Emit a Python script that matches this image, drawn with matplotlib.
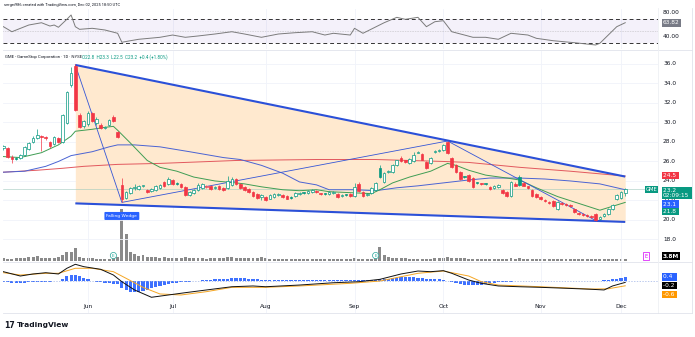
import matplotlib
matplotlib.use('Agg')
import matplotlib.pyplot as plt
from matplotlib.lines import Line2D
from matplotlib.transforms import blended_transform_factory as blend

W, H = 695, 337

# ---- data (x = trading-day index, 0 = May 2 2025) ----
opens = [27.4, 27.4, 26.5, 26.4, 26.4, 26.7, 27.3, 28.0, 28.4, 28.6,
         28.5, 28.0, 27.8, 28.4, 28.0, 29.9, 33.8, 35.8, 30.8, 29.6,
         29.8, 31.0, 29.9, 29.7, 29.4, 29.7, 30.6, 29.0, 23.6, 22.3,
         22.8, 23.3, 23.2, 23.5, 23.1, 23.0, 23.1, 23.3, 23.9, 23.7,
         24.1, 23.8, 23.7, 23.4, 22.6, 22.8, 23.1, 23.3, 23.4, 23.5,
         23.3, 23.5, 23.3, 23.3, 23.6, 24.2, 23.7, 23.4, 23.2, 22.9,
         22.7, 22.4, 22.4, 22.2, 22.4, 22.6, 22.6, 22.5, 22.4, 22.5,
         22.7, 22.8, 22.8, 22.9, 23.0, 22.7, 22.7, 22.7, 22.8, 22.7,
         22.5, 22.6, 22.7, 22.5, 23.7, 22.9, 22.6, 22.8, 23.1, 25.3,
         23.9, 24.9, 24.9, 25.6, 26.4, 26.1, 25.8, 26.0, 26.9, 26.8,
         25.9, 25.8, 27.0, 27.1, 27.2, 28.0, 26.4, 25.6, 24.9, 24.4,
         24.6, 24.3, 23.8, 23.7, 23.7, 23.4, 23.3, 23.4, 23.1, 22.9,
         22.5, 23.7, 24.4, 23.8, 23.5, 23.1, 22.7, 22.4, 22.0, 21.8,
         21.9, 21.1, 21.7, 21.6, 21.5, 21.1, 20.7, 20.6, 20.5, 20.4,
         20.6, 20.1, 20.4, 20.6, 21.1, 22.1, 22.3, 22.8]
closes = [27.6, 26.5, 26.3, 26.3, 26.7, 27.5, 27.9, 28.4, 28.7, 28.5,
          28.4, 27.6, 28.5, 28.0, 30.8, 33.1, 35.1, 31.3, 29.5, 30.2,
          31.0, 30.1, 30.4, 29.4, 29.5, 30.3, 30.1, 28.5, 22.1, 22.9,
          23.3, 23.4, 23.5, 23.6, 22.9, 23.2, 23.5, 23.6, 23.5, 24.2,
          23.7, 23.7, 23.4, 22.6, 22.9, 23.1, 23.6, 23.7, 23.5, 23.2,
          23.4, 23.2, 23.1, 24.0, 24.2, 23.7, 23.3, 23.1, 22.9, 22.5,
          22.3, 22.6, 22.0, 22.6, 22.7, 22.7, 22.4, 22.2, 22.3, 22.8,
          22.8, 22.8, 23.0, 23.1, 22.9, 22.7, 22.7, 22.9, 22.9, 22.4,
          22.6, 22.6, 22.5, 23.4, 23.0, 22.5, 22.7, 23.3, 23.8, 24.4,
          24.8, 25.0, 25.6, 26.1, 26.0, 25.9, 26.3, 26.7, 27.0, 26.2,
          25.3, 26.4, 27.1, 27.2, 27.7, 26.9, 25.4, 24.9, 24.2, 24.4,
          24.0, 23.4, 23.8, 23.7, 23.7, 23.2, 23.5, 23.6, 22.8, 22.5,
          23.9, 23.5, 23.6, 23.5, 23.3, 22.5, 22.4, 22.1, 21.9, 21.7,
          21.4, 21.8, 21.6, 21.5, 21.4, 20.8, 20.6, 20.5, 20.4, 20.3,
          20.0, 20.3, 20.6, 21.1, 21.5, 22.6, 22.9, 23.2]
highs = [27.7, 27.5, 26.7, 26.5, 26.8, 27.6, 28.0, 28.6, 29.3, 28.7,
         28.6, 28.1, 28.6, 28.5, 30.9, 33.2, 35.7, 36.0, 31.0, 30.3,
         31.2, 31.1, 30.6, 29.9, 29.6, 30.4, 30.8, 29.1, 24.3, 23.0,
         23.4, 23.7, 23.6, 23.6, 23.2, 23.3, 23.6, 23.7, 24.0, 24.4,
         24.2, 23.9, 23.8, 23.5, 23.0, 23.2, 23.8, 23.8, 23.6, 23.6,
         23.5, 23.6, 23.4, 24.5, 24.4, 24.3, 23.8, 23.5, 23.3, 23.0,
         22.8, 22.7, 22.5, 22.7, 22.8, 22.8, 22.7, 22.6, 22.5, 22.9,
         22.9, 22.9, 23.1, 23.2, 23.1, 22.8, 22.8, 23.0, 23.0, 22.8,
         22.7, 22.7, 22.8, 23.8, 23.9, 23.0, 22.8, 23.4, 23.9, 25.6,
         24.9, 25.1, 25.7, 26.2, 26.6, 26.2, 26.4, 27.0, 27.1, 26.9,
         26.0, 26.5, 27.2, 27.3, 27.8, 28.1, 26.5, 25.7, 25.0, 24.5,
         24.7, 24.4, 23.9, 23.8, 23.8, 23.5, 23.6, 23.7, 23.2, 23.0,
         24.0, 23.9, 24.6, 23.9, 23.5, 23.2, 22.8, 22.5, 22.1, 21.9,
         22.0, 21.9, 21.8, 21.7, 21.6, 21.2, 20.8, 20.7, 20.6, 20.5,
         20.7, 20.4, 20.7, 21.2, 21.6, 22.7, 23.0, 23.3]
lows = [27.2, 26.4, 25.8, 26.2, 26.3, 26.6, 27.2, 27.9, 28.3, 27.1,
        28.2, 27.4, 27.7, 27.9, 27.9, 29.8, 33.6, 31.2, 29.4, 29.4,
        29.6, 30.0, 29.7, 29.3, 29.3, 29.6, 30.0, 28.4, 21.8, 22.2,
        22.7, 23.1, 23.1, 23.4, 22.8, 22.9, 23.0, 23.2, 23.4, 23.6,
        23.6, 23.6, 23.3, 22.5, 22.5, 22.7, 23.0, 23.2, 23.3, 23.1,
        23.2, 23.1, 23.0, 23.2, 23.5, 23.6, 23.2, 23.0, 22.8, 22.4,
        22.2, 22.0, 21.9, 22.1, 22.3, 22.5, 22.3, 22.1, 22.2, 22.4,
        22.6, 22.7, 22.7, 22.8, 22.8, 22.6, 22.6, 22.6, 22.7, 22.3,
        22.4, 22.5, 22.4, 22.4, 22.9, 22.4, 22.5, 22.7, 23.0, 24.3,
        23.8, 24.8, 24.8, 25.5, 25.9, 25.8, 25.7, 25.9, 26.9, 26.1,
        25.2, 25.7, 26.9, 27.0, 27.1, 26.8, 25.3, 24.8, 24.1, 24.3,
        23.9, 23.3, 23.7, 23.6, 23.6, 23.1, 23.2, 23.3, 22.7, 22.4,
        22.4, 23.5, 23.5, 23.5, 23.2, 22.4, 22.3, 22.0, 21.8, 21.6,
        21.3, 21.0, 21.5, 21.4, 21.3, 20.7, 20.5, 20.4, 20.3, 20.2,
        19.9, 20.0, 20.3, 20.5, 21.0, 22.0, 22.2, 22.5]
volumes = [6, 5, 5, 6, 6, 7, 8, 9, 10, 7,
           7, 6, 7, 8, 13, 19, 19, 28, 9, 6,
           6, 6, 5, 5, 5, 5, 6, 8, 110, 57,
           19, 15, 11, 13, 9, 8, 8, 7, 8, 7,
           7, 6, 6, 8, 7, 6, 6, 6, 5, 6,
           6, 6, 6, 9, 8, 7, 6, 6, 6, 6,
           6, 8, 6, 5, 5, 5, 5, 5, 5, 5,
           5, 5, 5, 5, 5, 5, 5, 5, 5, 5,
           5, 5, 5, 6, 5, 5, 5, 5, 7, 30,
           12, 8, 6, 6, 6, 6, 5, 5, 5, 5,
           5, 5, 6, 6, 6, 8, 7, 6, 6, 6,
           5, 5, 5, 5, 5, 5, 5, 5, 5, 5,
           6, 5, 6, 5, 5, 5, 5, 5, 5, 5,
           5, 5, 5, 5, 5, 5, 5, 5, 5, 5,
           5, 5, 5, 5, 5, 5, 5, 3.8]

green_x = [0, 4, 9, 13, 16, 17, 21, 24, 26, 27, 30, 34, 37, 41, 45, 50, 55, 57, 61, 66,
           70, 74, 77, 82, 87, 89, 92, 96, 101, 105, 107, 110, 114, 119, 122, 126, 131, 136, 141, 144, 147]
green_y = [26.5, 26.4, 26.9, 27.7, 28.6, 29.1, 29.3, 29.5, 29.6, 29.2, 27.9, 26.1, 25.4, 25.0, 24.4, 24.0, 23.8, 23.7, 23.4, 23.1,
           23.0, 23.1, 22.9, 22.8, 22.7, 23.1, 23.8, 24.4, 25.0, 25.8, 25.6, 25.1, 24.6, 24.3, 24.1, 23.3, 22.4, 21.7, 21.0, 21.4, 21.8]
blue_x = [0, 5, 10, 13, 16, 21, 25, 27, 31, 37, 44, 52, 56, 61, 66, 70, 74, 77, 83, 88,
          93, 98, 104, 110, 115, 122, 128, 134, 141, 147]
blue_y = [24.9, 25.0, 25.5, 26.0, 26.6, 27.0, 27.5, 27.7, 27.7, 27.5, 27.0, 26.4, 26.2, 25.6, 24.8, 23.9, 23.6, 23.1, 23.1, 23.0,
          23.3, 23.5, 23.8, 24.1, 24.3, 24.3, 24.2, 24.0, 23.7, 23.1]
red_x = [0, 8, 14, 19, 27, 37, 55, 74, 88, 104, 110, 122, 134, 147]
red_y = [24.9, 25.1, 25.3, 25.5, 25.7, 25.8, 26.1, 26.2, 26.2, 26.0, 25.9, 25.4, 25.0, 24.5]

wedge_x = [17, 147]
wedge_upper = [35.9, 24.45]
wedge_lower = [21.7, 19.8]
pattern_x = [17, 28, 105, 140]
pattern_y = [35.9, 21.8, 28.1, 19.95]

rsi_x = [0, 2, 6, 9, 11, 12, 13, 15, 16, 17, 18, 21, 24, 27, 28, 30, 32, 37, 40, 43,
         46, 50, 54, 57, 61, 65, 69, 73, 76, 78, 82, 83, 85, 90, 93, 95, 98, 100, 102, 104,
         106, 109, 111, 114, 117, 120, 124, 126, 130, 135, 140, 141, 145, 147]
rsi_y = [57.2, 48.8, 60.0, 63.8, 58.3, 60.0, 56.2, 69.5, 76.7, 57.2, 52.8, 54.5, 51.7, 46.2, 31.2, 33.8, 36.2, 39.5, 43.3, 39.5,
         41.7, 45.0, 48.8, 45.0, 39.5, 45.0, 47.2, 48.8, 43.3, 46.2, 43.3, 54.5, 46.2, 63.8, 72.8, 69.5, 72.8, 57.2, 65.5, 67.2,
         48.8, 43.3, 39.5, 39.5, 36.2, 46.2, 43.3, 37.8, 33.8, 30.5, 26.7, 29.5, 57.2, 63.82]

macd_x = [0, 4, 7, 10, 13, 15, 17, 19, 23, 26, 28, 31, 35, 39, 43, 48, 54, 59, 62, 70,
          78, 84, 89, 94, 98, 101, 104, 106, 110, 113, 117, 122, 127, 133, 139, 142, 144, 147]
macd_y = [1.06, 0.55, 0.79, 0.94, 0.79, 1.46, 1.93, 1.65, 1.34, 0.67, -0.12, -1.09, -1.95, -1.68, -1.41, -1.09, -0.71, -0.62, -0.71, -0.51,
          -0.24, -0.12, 0.16, 0.79, 1.14, 1.06, 1.18, 0.87, 0.08, -0.31, -0.62, -0.71, -0.78, -0.89, -1.01, -1.09, -0.62, -0.2]
signal_x = [0, 4, 10, 13, 17, 21, 26, 29, 33, 37, 42, 48, 54, 62, 70, 82, 89, 94, 98, 104,
            110, 113, 117, 127, 139, 143, 147]
signal_y = [0.94, 0.67, 0.87, 0.87, 1.46, 1.46, 1.06, 0.28, -0.78, -1.56, -1.68, -1.29, -0.78, -0.78, -0.62, -0.31, -0.04, 0.47, 0.87, 1.14,
            0.55, -0.12, -0.51, -0.71, -0.98, -0.95, -0.6]
hist = [-0.15, -0.2, -0.25, -0.3, -0.3, -0.25, -0.2, -0.15, -0.1, -0.1, -0.1, -0.1, -0.05, -0.05,
        0.2, 0.5, 0.65, 0.7, 0.5, 0.3,
        0.15, 0.0, -0.1, -0.2, -0.25, -0.3, -0.35, -0.4,
        -0.8, -1.1, -1.3, -1.35, -1.3, -1.2, -1.05, -0.9, -0.75, -0.6, -0.45, -0.35,
        -0.3, -0.25, -0.2, -0.15, -0.1, -0.05, 0.0, 0.05,
        0.1, 0.12, 0.15, 0.18, 0.2, 0.25, 0.28, 0.3, 0.3, 0.28, 0.25, 0.2, 0.15,
        0.1, 0.08, 0.06, 0.05, 0.05, 0.04, 0.03, 0.03, 0.04, 0.05, 0.06, 0.06, 0.07, 0.07,
        0.06, 0.05, 0.05, 0.06, 0.05, 0.04, 0.04, 0.03, 0.03, 0.04, 0.05, 0.04, 0.03, 0.05,
        0.15, 0.2, 0.25, 0.3, 0.35, 0.4, 0.42, 0.4, 0.38, 0.35, 0.3, 0.25, 0.2, 0.18, 0.15, 0.1,
        0.0, -0.15, -0.3, -0.4, -0.5, -0.55, -0.55, -0.5, -0.45, -0.4, -0.3, -0.25, -0.2, -0.15,
        -0.12, -0.1, -0.08, -0.06, -0.05, -0.05, -0.06, -0.07, -0.07, -0.08, -0.08, -0.08,
        -0.08, -0.08, -0.07, -0.07, -0.07, -0.06, -0.06, -0.05, -0.05, -0.05,
        0.0, 0.05, 0.1, 0.18, 0.25, 0.32, 0.4]

months = ['Jun', 'Jul', 'Aug', 'Sep', 'Oct', 'Nov', 'Dec']
month_idx = [20, 40, 62, 83, 104, 127, 146]
price_ticks = [18, 20, 22, 24, 26, 28, 30, 32, 34, 36]
earnings_idx = [26, 88]

GREEN = '#089981'
RED = '#f23645'
BLUE = '#2962ff'
TXT = '#131722'
GRID = '#f0f3fa'

fig = plt.figure(figsize=(W / 100, H / 100), dpi=100)
fig.patch.set_facecolor('white')


def box(x0, y0, x1, y1):
    return [x0 / W, 1 - y1 / H, (x1 - x0) / W, (y1 - y0) / H]


def ptxt(x, y, s, **kw):
    kw.setdefault('fontsize', 4.2)
    kw.setdefault('va', 'center')
    return fig.text(x / W, 1 - y / H, s, **kw)


def tag(x, y, s, fc, **kw):
    kw.setdefault('color', 'white')
    return ptxt(x, y, s, bbox=dict(boxstyle='square,pad=0.18', fc=fc, ec='none'), **kw)


XL = (-0.1, 154.75)
ax_rsi = fig.add_axes(box(3, 9, 658, 49))
ax = fig.add_axes(box(3, 51, 658, 261))
ax_macd = fig.add_axes(box(3, 262, 658, 313))

for a in (ax_rsi, ax, ax_macd):
    a.set_xlim(*XL)
    for s in a.spines.values():
        s.set_visible(False)
    a.set_xticks([])
    a.set_yticks([])
    for m in month_idx:
        a.axvline(m, color=GRID, lw=0.6, zorder=0)

# ---- RSI pane ----
ax_rsi.set_ylim(20, 86.7)
ax_rsi.axhspan(30, 70, color='#7e57c2', alpha=0.08, lw=0)
ax_rsi.axhline(70, color='#333333', lw=0.7, ls=(0, (4, 3)))
ax_rsi.axhline(30, color='#333333', lw=0.7, ls=(0, (4, 3)))
ax_rsi.axhline(50, color='#9a9a9a', lw=0.4, ls=(0, (1, 2)))
ax_rsi.plot(rsi_x, rsi_y, color='#7b7b7b', lw=0.7)

# ---- price pane ----
ax.set_ylim(15.79, 37.33)
for p in price_ticks:
    ax.axhline(p, color=GRID, lw=0.6, zorder=0)
ax.patch.set_visible(False)
ax_vol = ax.twinx()
ax_vol.set_zorder(ax.get_zorder() - 1)
ax_vol.set_ylim(0, 440)
ax_vol.set_xlim(*XL)
ax_vol.set_yticks([])
for s in ax_vol.spines.values():
    s.set_visible(False)
ax_vol.bar(range(len(volumes)), volumes, width=0.7, color='#8a8a8a', lw=0)

ax.fill_between(wedge_x, wedge_lower, wedge_upper, color='#ffe9cf', lw=0, zorder=0.5)
ax.plot(wedge_x, wedge_upper, color='#2b50d8', lw=1.5, zorder=3, solid_capstyle='butt')
ax.plot(wedge_x, wedge_lower, color='#2b50d8', lw=1.5, zorder=3, solid_capstyle='butt')
ax.plot(pattern_x, pattern_y, color='#3556d6', lw=0.6, zorder=3)

ax.plot(red_x, red_y, color='#e2585e', lw=0.7, zorder=2)
ax.plot(blue_x, blue_y, color='#4a63d3', lw=0.7, zorder=2)
ax.plot(green_x, green_y, color='#3f9d54', lw=0.7, zorder=2)
ax.axhline(closes[-1], color='#9fc9bd', lw=0.4, zorder=1)

for i in range(len(closes)):
    o, h, l, c = opens[i], highs[i], lows[i], closes[i]
    prev = closes[i - 1] if i else o
    col = GREEN if c >= prev else RED
    ax.vlines(i, l, h, color=col, lw=0.5, zorder=4)
    hollow = c > o
    ax.bar(i, max(abs(c - o), 0.06), bottom=min(o, c), width=0.62,
           facecolor='white' if hollow else col, edgecolor=col, lw=0.5, zorder=5)

ax.text(28, 20.41, 'Falling Wedge', ha='center', va='center', fontsize=3.2, color='white', zorder=8,
        bbox=dict(boxstyle='round,pad=0.45,rounding_size=0.2', fc=BLUE, ec='none'))
for e in earnings_idx:
    ax.text(e, 16.35, 'E', ha='center', va='center', fontsize=3.2, color='#26a69a', zorder=8,
            bbox=dict(boxstyle='circle,pad=0.25', fc='white', ec='#26a69a', lw=0.5))

# ---- MACD pane ----
ax_macd.set_ylim(-3.8, 2.2)
ax_macd.axhline(0, color='#9fb3e6', lw=0.5, ls=(0, (2, 2)))
ax_macd.bar(range(len(hist)), hist, width=0.75, color=BLUE, lw=0, alpha=0.9)
ax_macd.plot(signal_x, signal_y, color='#f5a623', lw=0.7)
ax_macd.plot(macd_x, macd_y, color='#111111', lw=0.7)
tb = blend(ax_macd.transData, ax_macd.transAxes)
for m, lab in zip(month_idx, months):
    ax_macd.text(m, 0.118, lab, transform=tb, ha='center', va='center', fontsize=4.2, color=TXT)

# ---- right scale ----
tp = blend(ax.transAxes, ax.transData)
for p in price_ticks:
    ax.text(1.0077, p, '%.1f' % p, transform=tp, fontsize=4.2, color=TXT, va='center', clip_on=False)

ptxt(663, 13, '80.00', color=TXT)
ptxt(663, 37, '40.00', color=TXT)
tag(663, 23, '63.82', '#787b86')

tag(663, 175.8, '24.5 ', RED)
tag(663, 192.6, '23.2        \n02:09:15', GREEN, linespacing=1.0)
tag(645.5, 189.5, 'GME', GREEN, fontsize=3.8)
tag(663, 204.0, '23.1 ', BLUE)
tag(663, 211.6, '21.8 ', GREEN)

tag(663, 256, '3.8M', 'black', fontweight='bold')
ptxt(646, 256, 'E', color='#d500f9', fontsize=3.6, ha='center',
     bbox=dict(boxstyle='square,pad=0.35', fc='white', ec='#d500f9', lw=0.5))
tag(663, 277, '0.4  ', BLUE)
tag(663, 285.6, '-0.2 ', 'black')
tag(663, 294.4, '-0.6 ', '#ff9800')

# ---- header / footer text ----
ptxt(4, 5, 'sergei986 created with TradingView.com, Dec 02, 2025 18:50 UTC',
     fontsize=2.9, color=TXT, family='Roboto')
ptxt(5, 57, 'GME - GameStop Corporation \u00b7 1D \u00b7 NYSE', fontsize=3.1, color=TXT, family='Roboto')
ptxt(82, 57, 'O22.8  H23.3  L22.5  C23.2  +0.4 (+1.80%)', fontsize=3.3, color=GREEN, family='Roboto')
ptxt(4, 325, '17', fontsize=5.6, fontweight='heavy', color=TXT)
ptxt(17, 325, 'TradingView', fontsize=5.4, fontweight='bold', color=TXT)

# pane separators and frame
for y in (50, 261.5):
    fig.add_artist(Line2D([3 / W, 692 / W], [1 - y / H] * 2, color='#e0e3eb', lw=0.6))
fig.add_artist(Line2D([658 / W] * 2, [1 - 8 / H, 1 - 313 / H], color='#eef0f4', lw=0.6))
fig.add_artist(Line2D([3 / W, 692 / W], [1 - 313 / H] * 2, color='#e0e3eb', lw=0.6))
fig.add_artist(Line2D([692 / W] * 2, [1 - 8 / H, 1 - 313 / H], color='#e0e3eb', lw=0.6))

fig.savefig('out.png', dpi=100)
